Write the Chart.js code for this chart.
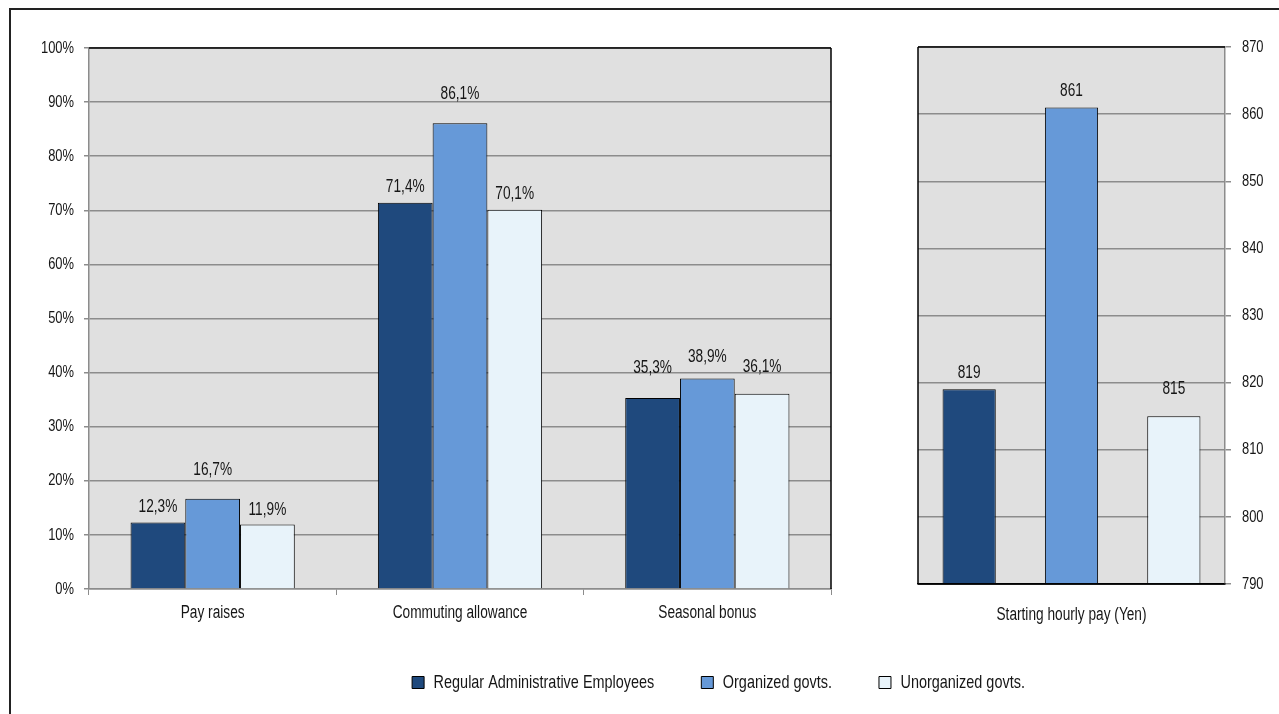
<!DOCTYPE html>
<html>
<head>
<meta charset="utf-8">
<script src="https://cdn.jsdelivr.net/npm/chart.js@4.4.1/dist/chart.umd.min.js"></script>
<style>
  html, body { margin: 0; padding: 0; background: #fff; overflow: hidden; }
  body { width: 1279px; height: 714px; position: relative; }
  #frame { position: absolute; left: 9px; top: 8px; width: 1300px; height: 720px; border: 2px solid #222; box-sizing: border-box; }
  .box { position: absolute; }
  #leftBox { left: 0; top: 0; width: 870px; height: 640px; }
  #rightBox { left: 880px; top: 0; width: 399px; height: 640px; }
  #legendBox { left: 79px; top: 626px; width: 1279px; height: 300px; }
</style>
</head>
<body>
<div id="frame"></div>
<div class="box" id="leftBox"><canvas id="leftChart"></canvas></div>
<div class="box" id="rightBox"><canvas id="rightChart"></canvas></div>
<div class="box" id="legendBox"><canvas id="legendChart"></canvas></div>
<script>
// ---- data ----
const seriesNames = ['Regular Administrative Employees', 'Organized govts.', 'Unorganized govts.'];
const categories = ['Pay raises', 'Commuting allowance', 'Seasonal bonus'];
const regularShare = [12.3, 71.4, 35.3];
const organizedShare = [16.7, 86.1, 38.9];
const unorganizedShare = [11.9, 70.1, 36.1];
const percentTicks = ['0%', '10%', '20%', '30%', '40%', '50%', '60%', '70%', '80%', '90%', '100%'];

const payCategory = ['Starting hourly pay (Yen)'];
const regularPay = [819];
const organizedPay = [861];
const unorganizedPay = [815];
const yenTicks = ['790', '800', '810', '820', '830', '840', '850', '860', '870'];

// ---- narrow text rendering (condensed look, like Arial Narrow) ----
const SQUEEZE = 0.76;
(function () {
  const proto = CanvasRenderingContext2D.prototype;
  const origFill = proto.fillText, origMeasure = proto.measureText;
  proto.fillText = function (text, x, y, maxWidth) {
    this.save();
    this.translate(x, y);
    this.scale(SQUEEZE, 1);
    if (maxWidth === undefined || maxWidth === null) origFill.call(this, text, 0, 0);
    else origFill.call(this, text, 0, 0, maxWidth / SQUEEZE);
    this.restore();
  };
  proto.measureText = function (text) {
    const m = origMeasure.call(this, text);
    return {
      width: m.width * SQUEEZE,
      actualBoundingBoxLeft: m.actualBoundingBoxLeft * SQUEEZE,
      actualBoundingBoxRight: m.actualBoundingBoxRight * SQUEEZE,
      actualBoundingBoxAscent: m.actualBoundingBoxAscent,
      actualBoundingBoxDescent: m.actualBoundingBoxDescent,
      fontBoundingBoxAscent: m.fontBoundingBoxAscent,
      fontBoundingBoxDescent: m.fontBoundingBoxDescent
    };
  };
})();

// ---- style ----
const FONT = "'Liberation Sans', Arial, sans-serif";
const colors = ['#1f497d', '#6699d8', '#e8f3fa'];
const GRID = '#8c8c8c';
const TXT = '#161616';
Chart.defaults.font.family = FONT;
Chart.defaults.color = TXT;

const framePlugin = {
  id: 'plotFrame',
  beforeDraw(chart, args, opts) {
    const a = chart.chartArea, ctx = chart.ctx;
    ctx.save();
    ctx.fillStyle = opts.bg || '#e0e0e0';
    ctx.fillRect(a.left, a.top, a.right - a.left, a.bottom - a.top);
    ctx.restore();
  },
  afterDraw(chart, args, opts) {
    const a = chart.chartArea, ctx = chart.ctx;
    ctx.save();
    ctx.strokeStyle = '#000';
    ctx.lineWidth = 1.5;
    (opts.sides || []).forEach(s => {
      ctx.beginPath();
      if (s === 'top') { ctx.moveTo(a.left, a.top); ctx.lineTo(a.right, a.top); }
      if (s === 'right') { ctx.moveTo(a.right, a.top); ctx.lineTo(a.right, a.bottom); }
      if (s === 'left') { ctx.moveTo(a.left, a.top); ctx.lineTo(a.left, a.bottom); }
      if (s === 'bottom') { ctx.moveTo(a.left, a.bottom); ctx.lineTo(a.right, a.bottom); }
      ctx.stroke();
    });
    ctx.restore();
  }
};

const valueLabels = {
  id: 'valueLabels',
  afterDatasetsDraw(chart, args, opts) {
    const ctx = chart.ctx;
    ctx.save();
    ctx.font = (opts.size || 18) + 'px ' + FONT;
    ctx.fillStyle = TXT;
    ctx.textAlign = 'center';
    ctx.textBaseline = 'alphabetic';
    chart.data.datasets.forEach((ds, di) => {
      const meta = chart.getDatasetMeta(di);
      meta.data.forEach((el, i) => {
        const gap = (opts.gaps && opts.gaps[di] && opts.gaps[di][i] != null) ? opts.gaps[di][i] : 10;
        ctx.fillText(opts.format(ds.data[i]), el.x, el.y - gap);
      });
    });
    ctx.restore();
  }
};

function makeDatasets(arrs, extra) {
  return arrs.map((d, i) => Object.assign({
    label: seriesNames[i],
    data: d,
    backgroundColor: colors[i],
    borderColor: '#000',
    borderWidth: 1,
    borderSkipped: 'bottom'
  }, extra || {}));
}

// ---- left chart ----
new Chart(document.getElementById('leftChart'), {
  type: 'bar',
  data: {
    labels: categories,
    datasets: makeDatasets([regularShare, organizedShare, unorganizedShare], { categoryPercentage: 0.664, barPercentage: 1 })
  },
  options: {
    responsive: true, maintainAspectRatio: false, animation: false,
    layout: { padding: { left: 20, right: 39, top: 48, bottom: 0 } },
    plugins: {
      legend: { display: false }, tooltip: { enabled: false },
      plotFrame: { sides: ['top', 'right'] },
      valueLabels: {
        size: 18,
        format: v => v.toFixed(1).replace('.', ',') + '%',
        gaps: [[10, 11, 25], [24, 24, 17], [10, 11, 22]]
      }
    },
    scales: {
      x: {
        grid: { offset: true, drawOnChartArea: false, drawTicks: true, tickLength: 6, color: GRID },
        border: { color: GRID, width: 1.5 },
        ticks: { font: { size: 18 }, color: TXT, padding: 7 },
        afterFit(s) { s.height = 51; }
      },
      y: {
        min: 0, max: 100,
        ticks: { stepSize: 10, font: { size: 17 }, color: TXT, padding: 10, callback: (v, i) => percentTicks[i] },
        grid: { color: GRID, lineWidth: 1.5, tickLength: 5 },
        border: { color: GRID, width: 1.5 },
        afterFit(s) { s.width = 69; }
      }
    }
  },
  plugins: [framePlugin, valueLabels]
});

// ---- right chart ----
new Chart(document.getElementById('rightChart'), {
  type: 'bar',
  data: {
    labels: payCategory,
    datasets: makeDatasets([regularPay, organizedPay, unorganizedPay], { categoryPercentage: 1, barPercentage: 0.52, base: 790 })
  },
  options: {
    responsive: true, maintainAspectRatio: false, animation: false,
    layout: { padding: { left: 38, right: 10, top: 47, bottom: 0 } },
    plugins: {
      legend: { display: false }, tooltip: { enabled: false },
      plotFrame: { sides: ['top', 'left', 'bottom'] },
      valueLabels: {
        size: 18,
        format: v => String(v),
        gaps: [[11.5], [11], [22.5]]
      }
    },
    scales: {
      x: {
        grid: { display: false, drawTicks: false },
        border: { color: '#000', width: 1.5 },
        ticks: { font: { size: 18 }, color: TXT, padding: 20 },
        afterFit(s) { s.height = 56; }
      },
      y: {
        position: 'right',
        min: 790, max: 870,
        ticks: { stepSize: 10, font: { size: 17 }, color: TXT, padding: 11, callback: (v, i) => yenTicks[i] },
        grid: { color: GRID, lineWidth: 1.5, tickLength: 6 },
        border: { color: GRID, width: 1.5 },
        afterFit(s) { s.width = 44; }
      }
    }
  },
  plugins: [framePlugin, valueLabels]
});

// ---- legend (library legend on an axis-less chart) ----
new Chart(document.getElementById('legendChart'), {
  type: 'bar',
  data: {
    labels: [],
    datasets: makeDatasets([[], [], []])
  },
  options: {
    responsive: true, maintainAspectRatio: false, animation: false,
    layout: { padding: 0 },
    scales: { x: { display: false }, y: { display: false } },
    plugins: {
      tooltip: { enabled: false },
      legend: {
        position: 'top',
        labels: { boxWidth: 12, boxHeight: 12, padding: 47, font: { size: 19 }, color: TXT }
      }
    }
  }
});
</script>
</body>
</html>
